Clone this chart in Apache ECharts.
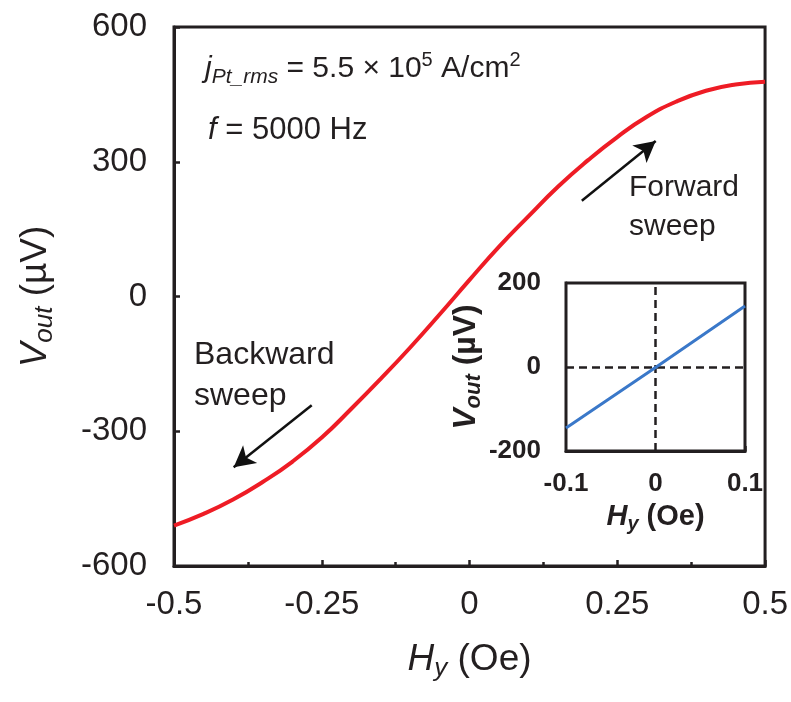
<!DOCTYPE html>
<html>
<head>
<meta charset="utf-8">
<script src="https://cdn.jsdelivr.net/npm/echarts@6/dist/echarts.min.js"></script>
<style>
html, body { margin: 0; padding: 0; background: #fff; }
#chart { width: 791px; height: 702px; }
</style>
</head>
<body>
<div id="chart"></div>
<script>
// main curve, Hy (Oe) vs Vout (uV)
var hyMain = [-0.5, -0.45, -0.4, -0.35, -0.3, -0.25, -0.2, -0.15, -0.1, -0.05, 0,
	0.05, 0.1, 0.15, 0.2, 0.25, 0.3, 0.35, 0.4, 0.45, 0.5];
var voutMain = [-510, -484, -452, -413, -368, -314, -250, -183, -113, -39, 37,
	111, 179, 245, 303, 355, 400, 434, 458, 472, 478];

// inset
var hyInset = [-0.1, 0, 0.1];
var voutInset = [-145, -1, 145];

// axis ticks
var xTicksMain = [-0.5, -0.25, 0, 0.25, 0.5];
var yTicksMain = [-600, -300, 0, 300, 600];
var xTicksInset = [-0.1, 0, 0.1];
var yTicksInset = [-200, 0, 200];

// sweep arrows (data coords: start, end)
var fwdArrow = [[0.19, 213], [0.315, 346]];
var bwdArrow = [[-0.267, -242], [-0.399, -380]];

var ink = '#231f20';
var font = 'Liberation Sans, Arial, sans-serif';

function pairs(xs, ys) {
	var out = [];
	for (var i = 0; i < xs.length; i++) {
		out.push([xs[i], ys[i]]);
	}
	return out;
}

function arrowLine(p) {
	return [{ coord: p[0] }, { coord: p[1] }];
}

// rich styles for "V_out" / "H_y" style names
function nameRich(size, bold) {
	var w = bold ? 'bold' : 'normal';
	return {
		i: { fontSize: size, fontStyle: 'italic', fontWeight: w, color: ink, fontFamily: font, lineHeight: Math.round(size * 1.2) },
		s: { fontSize: Math.round(size * 0.7), fontStyle: 'italic', fontWeight: w, color: ink, fontFamily: font,
			lineHeight: Math.round(size * 0.55), verticalAlign: 'bottom' }
	};
}

var myChart = echarts.init(document.getElementById('chart'));

var option = {
	animation: false,
	backgroundColor: '#fff',
	textStyle: { fontFamily: font, color: ink },
	grid: [
		{ left: 174, top: 27, right: 24, bottom: 136, show: true, borderColor: ink, borderWidth: 3, z: 0 },
		{ left: 566, top: 283, right: 46, bottom: 251, show: true, borderColor: ink, borderWidth: 3, backgroundColor: '#fff', z: 5 }
	],
	xAxis: [
		{
			gridIndex: 0, type: 'value',
			min: xTicksMain[0], max: xTicksMain[xTicksMain.length - 1], interval: 0.25,
			axisLine: { onZero: false, lineStyle: { color: ink, width: 3 } },
			axisTick: { inside: true, length: 6, lineStyle: { color: ink, width: 2.5 } },
			minorTick: { show: true, splitNumber: 2, length: 4, lineStyle: { color: ink, width: 2.5 } },
			splitLine: { show: false },
			axisLabel: { fontSize: 33, color: ink, margin: 22, fontFamily: font },
			name: '{i|H}{s|y} (Oe)',
			nameLocation: 'middle', nameGap: 72,
			nameTextStyle: { fontSize: 37, color: ink, fontFamily: font, rich: nameRich(37, false) }
		},
		{
			gridIndex: 1, type: 'value',
			min: xTicksInset[0], max: xTicksInset[xTicksInset.length - 1], interval: 0.1,
			axisLine: { onZero: false, lineStyle: { color: ink, width: 3 } },
			axisTick: { inside: true, length: 5, lineStyle: { color: ink, width: 2.5 } },
			minorTick: { show: true, splitNumber: 2, length: 5, lineStyle: { color: ink, width: 2.5 } },
			splitLine: { show: false },
			axisLabel: { fontSize: 26, fontWeight: 'bold', color: ink, margin: 20, fontFamily: font },
			name: '{i|H}{s|y} (Oe)',
			nameLocation: 'middle', nameGap: 48,
			nameTextStyle: { fontSize: 29, fontWeight: 'bold', color: ink, fontFamily: font, rich: nameRich(29, true) }
		}
	],
	yAxis: [
		{
			gridIndex: 0, type: 'value',
			min: yTicksMain[0], max: yTicksMain[yTicksMain.length - 1], interval: 300,
			axisLine: { onZero: false, lineStyle: { color: ink, width: 3 } },
			axisTick: { inside: true, length: 6, lineStyle: { color: ink, width: 2.5 } },
			splitLine: { show: false },
			axisLabel: { fontSize: 33, color: ink, margin: 27, fontFamily: font },
			name: '{i|V}{s|out} (µV)',
			nameLocation: 'middle', nameGap: 116, nameRotate: 90,
			nameTextStyle: { fontSize: 37, color: ink, fontFamily: font, rich: nameRich(37, false) }
		},
		{
			gridIndex: 1, type: 'value',
			min: yTicksInset[0], max: yTicksInset[yTicksInset.length - 1], interval: 200,
			axisLine: { onZero: false, lineStyle: { color: ink, width: 3 } },
			axisTick: { inside: true, length: 5, lineStyle: { color: ink, width: 2.5 } },
			minorTick: { show: true, splitNumber: 2, length: 5, lineStyle: { color: ink, width: 2.5 } },
			splitLine: { show: false },
			axisLabel: { fontSize: 26, fontWeight: 'bold', color: ink, margin: 25, fontFamily: font },
			name: '{i|V}{s|out} (µV)',
			nameLocation: 'middle', nameGap: 58, nameRotate: 90,
			nameTextStyle: { fontSize: 32, fontWeight: 'bold', color: ink, fontFamily: font, rich: nameRich(32, true) }
		}
	],
	series: [
		{
			name: 'main', type: 'line',
			xAxisIndex: 0, yAxisIndex: 0,
			data: pairs(hyMain, voutMain),
			smooth: true, showSymbol: false,
			lineStyle: { color: '#ee1c25', width: 4 },
			z: 2,
			markLine: {
				silent: true, symbol: ['none', 'arrow'], symbolSize: [17, 21],
				label: { show: false },
				lineStyle: { color: '#111', width: 2.5, type: 'solid' },
				data: [arrowLine(fwdArrow), arrowLine(bwdArrow)]
			}
		},
		{
			name: 'inset', type: 'line',
			xAxisIndex: 1, yAxisIndex: 1,
			data: pairs(hyInset, voutInset),
			showSymbol: false,
			lineStyle: { color: '#3a78c9', width: 3 },
			z: 10,
			markLine: {
				silent: true, symbol: ['none', 'none'],
				label: { show: false },
				lineStyle: { color: ink, width: 2.5, type: [8, 5] },
				data: [{ xAxis: 0 }, { yAxis: 0 }]
			}
		}
	],
	graphic: [
		{
			type: 'text', left: 205, top: 50, z: 20,
			style: {
				text: '{i|j}{s|Pt_rms} = 5.5 × 10{p|5} A/cm{p|2}',
				fill: ink, font: '30px ' + font,
				rich: {
					i: { fontSize: 30, fontStyle: 'italic', fontFamily: font, lineHeight: 38 },
					s: { fontSize: 21, fontStyle: 'italic', fontFamily: font, lineHeight: 17, verticalAlign: 'bottom' },
					p: { fontSize: 20, fontFamily: font, lineHeight: 17, verticalAlign: 'top' }
				}
			}
		},
		{
			type: 'text', left: 208, top: 115, z: 20,
			style: {
				text: '{i|f} = 5000 Hz',
				fill: ink, font: '31px ' + font,
				rich: { i: { fontSize: 31, fontStyle: 'italic', fontFamily: font } }
			}
		},
		{
			type: 'text', left: 629, top: 168, z: 20,
			style: { text: 'Forward\nsweep', fill: ink, font: '30px ' + font, lineHeight: 39 }
		},
		{
			type: 'text', left: 194, top: 335, z: 20,
			style: { text: 'Backward\nsweep', fill: ink, font: '32px ' + font, lineHeight: 41 }
		}
	]
};
myChart.setOption(option);
</script>
</body>
</html>
